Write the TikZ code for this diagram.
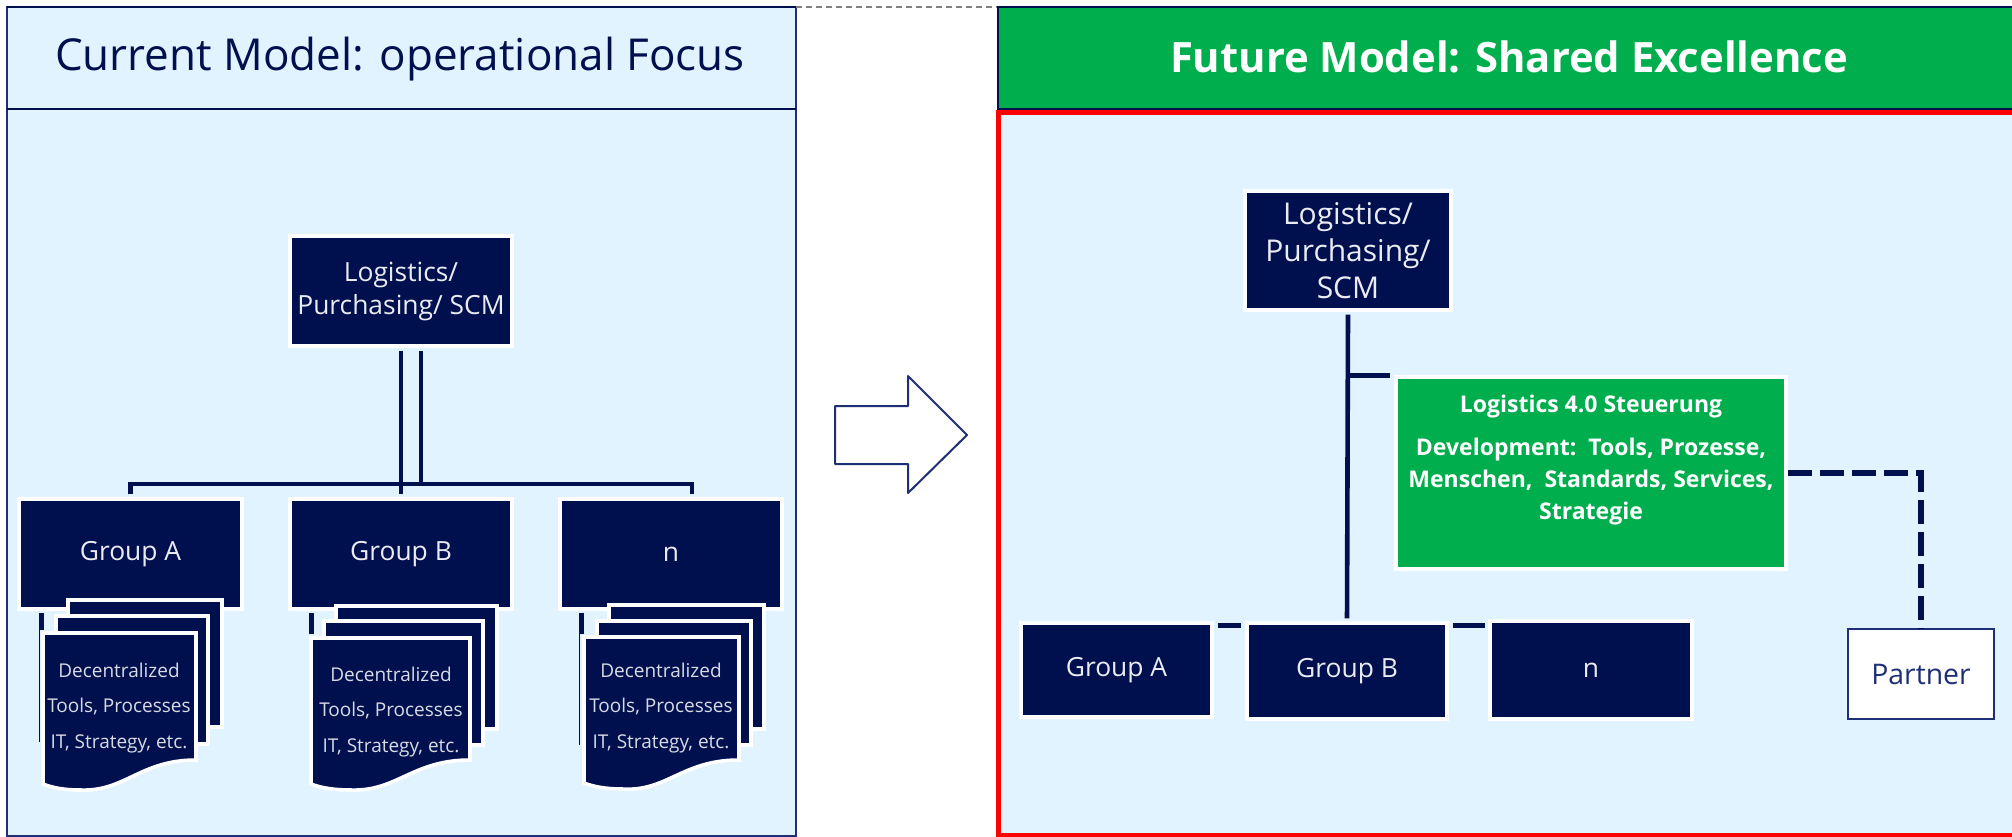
\documentclass[tikz,border=0pt]{standalone}
\usepackage{fontspec}
\setmainfont{Open Sans}
\definecolor{navyfill}{HTML}{00104F}
\definecolor{navyedge}{HTML}{1F2F75}
\definecolor{paleblue}{HTML}{E1F3FF}
\definecolor{logigreen}{HTML}{00AE4D}
\tikzset{
  panel/.style={fill=paleblue, draw=navyedge, line width=1.2pt},
  navybox/.style={fill=navyfill, draw=white, line width=1.8pt, text=white!92!navyfill, inner sep=0pt, align=center, font=\fontsize{13.2}{16.5}\selectfont},
  pagebox/.style={fill=navyfill, draw=white, line width=1.8pt},
  doctext/.style={text=white!85!navyfill, inner sep=0pt, align=center, font=\fontsize{9.5}{17.8}\selectfont},
  link/.style={draw=navyfill, line width=2.3pt},
  dashlink/.style={draw=navyfill, line width=3pt, dash pattern=on 12pt off 4pt},
}
\begin{document}
\begin{tikzpicture}[x=0.5pt,y=-0.5pt]
    \useasboundingbox (0,0) rectangle (2012,836);
    \clip (0,0) rectangle (2012,836);

	% Left panel
	\filldraw[panel] (7,109) rectangle (796,836);
	\filldraw[panel] (7,7) rectangle (796,109);
	\draw[navyfill, line width=1.2pt] (7,7) -- (796,7);
	\draw[navyfill, line width=1.2pt] (7,109) -- (796,109);
	\node (currentT) [text=navyfill, font=\fontsize{22}{26}\selectfont] at (400,59) {Current Model: operational Focus};

	% Right panel
	\draw[gray, line width=0.6pt, densely dashed] (796,7) -- (998,7);
	\filldraw[fill=logigreen, draw=navyfill, line width=1.2pt] (998,7) rectangle (2030,109);
	\filldraw[fill=paleblue, draw=red, line width=2.5pt] (998,112) rectangle (2030,835);
	\node (futureT) [text=white, font=\bfseries\fontsize{20.9}{25}\selectfont] at (1509,57) {Future Model: Shared Excellence};

	% Transition arrow
	\filldraw[fill=white, draw=navyedge, line width=1pt, line join=round] (835,406) -- (908,406) -- (908,376) -- (967,435) -- (908,493) -- (908,464) -- (835,464) -- cycle;

	% Current model boxes
	\node (logL) [navybox, minimum width=110.8pt, minimum height=54.8pt] at (401,291) {Logistics/\\Purchasing/ SCM};
	\node (grpA) [navybox, minimum width=111.3pt, minimum height=54.8pt] at (130.5,554) {Group A};
	\node (grpB) [navybox, minimum width=110.8pt, minimum height=54.8pt] at (401,554) {Group B};
	\node (grpN) [navybox, minimum width=110.8pt, minimum height=54.8pt] at (671,554) {n};

	% Current model connectors
	\coordinate (busL) at (401,484);
	\draw[link, shorten <=1.5pt, shorten >=1.5pt] (logL.south) -- (grpB.north);
	\draw[link, shorten <=1.5pt] ([xshift=10pt]logL.south) -- ([xshift=10pt]logL.south |- busL);
	\draw[link, shorten <=1.5pt] (grpA.north) |- (busL);
	\draw[link, shorten <=1.5pt] ([xshift=10.5pt]grpN.north) |- (busL);

	% Stack under Group A
	\fill[navyfill] (39,613) rectangle (44,630);
	\draw[navyfill, line width=0.5pt] (39.5,630) -- (39.5,742);
	\filldraw[pagebox] (68,600) rectangle (222,727);
	\filldraw[pagebox] (56,616) rectangle (208,744);
	\filldraw[pagebox] (43,633) -- (196,633) -- (196,760) .. controls (140,760) and (125,792) .. (80,790) .. controls (65,790) and (53,788) .. (43,784) -- cycle;
	\node (docA) [doctext] at (119,708) {Decentralized\\Tools, Processes\\IT, Strategy, etc.};

	% Stack under Group B
	\fill[navyfill] (309,613) rectangle (314,634);
	\filldraw[pagebox] (336,606) rectangle (497,729);
	\filldraw[pagebox] (324,621) rectangle (483,745);
	\filldraw[pagebox] (311,638) -- (470,638) -- (470,760) .. controls (412,760) and (397,792) .. (350,790) .. controls (335,790) and (321,788) .. (311,784) -- cycle;
	\node (docB) [doctext] at (391,712) {Decentralized\\Tools, Processes\\IT, Strategy, etc.};

	% Stack under n
	\fill[navyfill] (579,613) rectangle (584,634);
	\draw[navyfill, line width=0.5pt] (579.5,634) -- (579.5,745);
	\filldraw[pagebox] (609,605) rectangle (764,729);
	\filldraw[pagebox] (597,621) rectangle (751,745);
	\filldraw[pagebox] (584,637) -- (739,637) -- (739,760) .. controls (682,760) and (667,792) .. (622,789) .. controls (607,789) and (594,787) .. (584,783) -- cycle;
	\node (docN) [doctext] at (661,708) {Decentralized\\Tools, Processes\\IT, Strategy, etc.};

	% Future model boxes
	\node (logR) [navybox, font=\fontsize{15}{18.5}\selectfont, minimum width=102.8pt, minimum height=59.3pt] at (1348,250.5) {Logistics/\\Purchasing/\\SCM};
	\node (steer) [navybox, fill=logigreen, text=white, font=\bfseries\fontsize{11.5}{16}\selectfont, minimum width=194.8pt, minimum height=95.8pt] at (1591,473) {Logistics 4.0 Steuerung\\[5.5pt]Development:\ \ Tools, Prozesse,\\Menschen,\ \ Standards, Services,\\Strategie\\~};
	\node (grpRA) [navybox, minimum width=95.3pt, minimum height=46.8pt] at (1116.5,670) {Group A};
	\node (grpRB) [navybox, minimum width=99.8pt, minimum height=47.8pt] at (1347,671) {Group B};
	\node (grpRN) [navybox, minimum width=100.8pt, minimum height=48.8pt] at (1591,670) {n};
	\node (partner) [navybox, fill=white, draw=navyedge, line width=1pt, text=navyedge, font=\fontsize{14.2}{17}\selectfont, minimum width=73pt, minimum height=45pt] at (1921,674) {Partner};

	% Future model connectors
	\draw[link, shorten <=1.5pt, shorten >=1.5pt] (logR.south) -- (grpRB.north);
	\draw[link, shorten <=2pt] (steer.north west) -- (steer.north west -| logR.south);
	\draw[link, shorten <=2pt, shorten >=2pt] ([yshift=-2pt]grpRA.north east) -- ([yshift=-2pt]grpRB.north west);
	\draw[link, shorten <=2pt, shorten >=1.5pt] ([yshift=-2pt]grpRB.north east) -- ([yshift=-2pt]grpRB.north east -| grpRN.west);
	\draw[dashlink] (steer.east) -| (partner.north);

\end{tikzpicture}
\end{document}
